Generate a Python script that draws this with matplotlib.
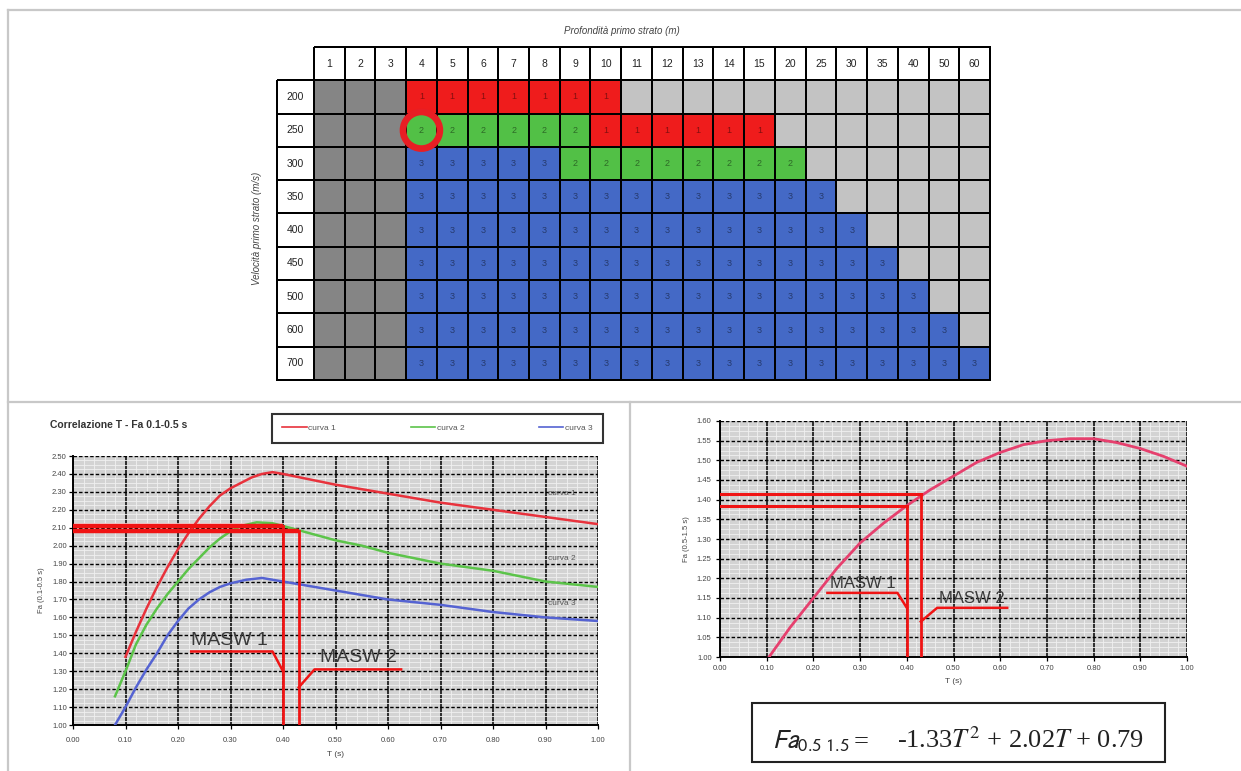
import numpy as np
import matplotlib
matplotlib.use('Agg')
import matplotlib.pyplot as plt
from matplotlib.colors import ListedColormap
from matplotlib.patches import Ellipse, Rectangle
from matplotlib.ticker import MultipleLocator, FormatStrFormatter

plt.rcParams['font.family'] = ['Liberation Sans', 'DejaVu Sans']

# ------------------------------------------------------------------ data
depths = ['1', '2', '3', '4', '5', '6', '7', '8', '9', '10', '11', '12', '13',
          '14', '15', '20', '25', '30', '35', '40', '50', '60']
velocities = ['200', '250', '300', '350', '400', '450', '500', '600', '700']
# 0 = not applicable (dark grey), 9 = outside (light grey), 1/2/3 = curve number
zone_200 = [0, 0, 0, 1, 1, 1, 1, 1, 1, 1, 9, 9, 9, 9, 9, 9, 9, 9, 9, 9, 9, 9]
zone_250 = [0, 0, 0, 2, 2, 2, 2, 2, 2, 1, 1, 1, 1, 1, 1, 9, 9, 9, 9, 9, 9, 9]
zone_300 = [0, 0, 0, 3, 3, 3, 3, 3, 2, 2, 2, 2, 2, 2, 2, 2, 9, 9, 9, 9, 9, 9]
zone_350 = [0, 0, 0, 3, 3, 3, 3, 3, 3, 3, 3, 3, 3, 3, 3, 3, 3, 9, 9, 9, 9, 9]
zone_400 = [0, 0, 0, 3, 3, 3, 3, 3, 3, 3, 3, 3, 3, 3, 3, 3, 3, 3, 9, 9, 9, 9]
zone_450 = [0, 0, 0, 3, 3, 3, 3, 3, 3, 3, 3, 3, 3, 3, 3, 3, 3, 3, 3, 9, 9, 9]
zone_500 = [0, 0, 0, 3, 3, 3, 3, 3, 3, 3, 3, 3, 3, 3, 3, 3, 3, 3, 3, 3, 9, 9]
zone_600 = [0, 0, 0, 3, 3, 3, 3, 3, 3, 3, 3, 3, 3, 3, 3, 3, 3, 3, 3, 3, 3, 9]
zone_700 = [0, 0, 0, 3, 3, 3, 3, 3, 3, 3, 3, 3, 3, 3, 3, 3, 3, 3, 3, 3, 3, 3]
circled_depth = '4'
circled_velocity = '250'

# left chart: Fa(0.1-0.5 s) curves
T_c1 = [0.10, 0.12, 0.14, 0.16, 0.18, 0.20, 0.22, 0.24, 0.26, 0.28, 0.30, 0.32,
        0.34, 0.36, 0.38, 0.40, 0.45, 0.50, 0.55, 0.60, 0.65, 0.70, 0.75, 0.80,
        0.85, 0.90, 0.95, 1.00]
Fa_c1 = [1.38, 1.52, 1.65, 1.77, 1.88, 1.98, 2.07, 2.15, 2.22, 2.28, 2.32, 2.35,
         2.38, 2.40, 2.41, 2.40, 2.37, 2.34, 2.315, 2.29, 2.265, 2.24, 2.22, 2.20,
         2.18, 2.16, 2.14, 2.12]
T_c2 = [0.08, 0.10, 0.12, 0.14, 0.16, 0.18, 0.20, 0.22, 0.24, 0.26, 0.28, 0.30,
        0.32, 0.35, 0.38, 0.40, 0.45, 0.50, 0.55, 0.60, 0.65, 0.70, 0.75, 0.80,
        0.85, 0.90, 0.95, 1.00]
Fa_c2 = [1.16, 1.30, 1.45, 1.56, 1.65, 1.73, 1.80, 1.87, 1.93, 1.99, 2.04, 2.08,
         2.11, 2.13, 2.125, 2.11, 2.07, 2.03, 2.00, 1.96, 1.93, 1.90, 1.88, 1.86,
         1.83, 1.80, 1.785, 1.77]
T_c3 = [0.08, 0.10, 0.12, 0.14, 0.16, 0.18, 0.20, 0.22, 0.24, 0.26, 0.28, 0.30,
        0.33, 0.36, 0.40, 0.45, 0.50, 0.55, 0.60, 0.65, 0.70, 0.75, 0.80, 0.85,
        0.90, 0.95, 1.00]
Fa_c3 = [1.00, 1.10, 1.21, 1.31, 1.40, 1.50, 1.58, 1.65, 1.70, 1.74, 1.77, 1.79,
         1.81, 1.82, 1.80, 1.775, 1.75, 1.725, 1.70, 1.685, 1.67, 1.65, 1.63, 1.615,
         1.60, 1.59, 1.58]
curve_labels = ['curva 1', 'curva 2', 'curva 3']
curve_label_T = [0.905, 0.905, 0.905]
curve_label_Fa = [2.29, 1.93, 1.68]

# MASW readings on left chart
left_masw_T = [0.40, 0.43]
left_masw_Fa = [2.11, 2.08]
left_masw_names = ['MASW 1', 'MASW 2']
left_lead1_T = [0.225, 0.38, 0.40]
left_lead1_Fa = [1.41, 1.41, 1.30]
left_lead2_T = [0.43, 0.46, 0.625]
left_lead2_Fa = [1.21, 1.31, 1.31]
left_text_T = [0.225, 0.47]
left_text_Fa = [1.425, 1.33]

# right chart: Fa(0.5-1.5 s)
T_r = [0.105, 0.15, 0.20, 0.25, 0.30, 0.35, 0.40, 0.45, 0.50, 0.55, 0.60, 0.65,
       0.70, 0.75, 0.80, 0.85, 0.90, 0.95, 1.00]
Fa_r = [1.00, 1.075, 1.15, 1.225, 1.29, 1.34, 1.385, 1.425, 1.46, 1.495, 1.52,
        1.54, 1.55, 1.555, 1.555, 1.545, 1.53, 1.51, 1.485]
right_masw_T = [0.40, 0.43]
right_masw_Fa = [1.385, 1.415]
right_lead1_T = [0.23, 0.38, 0.40]
right_lead1_Fa = [1.163, 1.163, 1.125]
right_lead2_T = [0.43, 0.465, 0.615]
right_lead2_Fa = [1.09, 1.125, 1.125]
right_text_T = [0.235, 0.47]
right_text_Fa = [1.168, 1.13]

# ------------------------------------------------------------------ layout
W, H = 1241, 771
fig = plt.figure(figsize=(W / 100, H / 100), dpi=100)


def frect(x0, y0, x1, y1):
    return [x0 / W, 1 - y1 / H, (x1 - x0) / W, (y1 - y0) / H]


# background / panel frames in pixel coordinates
bg = fig.add_axes([0, 0, 1, 1])
bg.set_xlim(0, W)
bg.set_ylim(H, 0)
bg.axis('off')
frame_kw = dict(color='#c8c8c8', lw=1.6)
bg.plot([8, W], [10, 10], **frame_kw)
bg.plot([8, 8], [10, H], **frame_kw)
bg.plot([8, W], [402, 402], **frame_kw)
bg.plot([630, 630], [402, H], **frame_kw)

# ------------------------------------------------------------------ table
c_dark, c_red, c_green, c_blue, c_light = '#858585', '#ef1c1c', '#52c046', '#4469c6', '#c3c3c3'
zones = np.array([zone_200, zone_250, zone_300, zone_350, zone_400, zone_450,
                  zone_500, zone_600, zone_700])
nrow, ncol = zones.shape
code_order = [0, 1, 2, 3, 9]
idx = np.vectorize(code_order.index)(zones)

axT = fig.add_axes(frect(277, 47, 990, 380))
axT.set_xlim(-1.2, ncol)
axT.set_ylim(nrow, -1)
axT.axis('off')
m = axT.pcolormesh(np.arange(ncol + 1), np.arange(nrow + 1), idx,
                   cmap=ListedColormap([c_dark, c_red, c_green, c_blue, c_light]),
                   vmin=-0.5, vmax=4.5, edgecolors='black', linewidth=1.3)
m.set_clip_on(False)
white = ListedColormap(['white'])
m = axT.pcolormesh(np.arange(ncol + 1), [-1, 0], np.zeros((1, ncol)), cmap=white,
                   edgecolors='black', linewidth=1.3)
m.set_clip_on(False)
m = axT.pcolormesh([-1.2, 0], np.arange(nrow + 1), np.zeros((nrow, 1)), cmap=white,
                   edgecolors='black', linewidth=1.3)
m.set_clip_on(False)
for j, d in enumerate(depths):
    axT.text(j + 0.5, -0.5, d, ha='center', va='center', fontsize=7.5, color='#222222')
for i, v in enumerate(velocities):
    axT.text(-0.6, i + 0.5, v, ha='center', va='center', fontsize=7.5, color='#222222')
for i in range(nrow):
    for j in range(ncol):
        if zones[i, j] in (1, 2, 3):
            axT.text(j + 0.5, i + 0.5, str(zones[i, j]), ha='center', va='center',
                     fontsize=6.5, color='black', alpha=0.45)
cj = depths.index(circled_depth)
ci = velocities.index(circled_velocity)
axT.add_patch(Ellipse((cj + 0.5, ci + 0.5), 1.2, 1.1, fill=False, ec='#e81e24',
                      lw=4.8, zorder=5, clip_on=False))
bg.text(622, 31, 'Profondità primo strato (m)', ha='center', va='center',
        fontsize=7, style='italic', color='#444444')
bg.text(257, 228, 'Velocità primo strato (m/s)', ha='center', va='center',
        fontsize=7, style='italic', color='#444444', rotation=90)


# ------------------------------------------------------------------ chart style
def style_chart(ax, ymin, ymax, ymajor, yminor, xpad, ypad):
    ax.set_xlim(0, 1)
    ax.set_ylim(ymin, ymax)
    ax.set_facecolor('#d3d3d3')
    ax.set_axisbelow(True)
    ax.xaxis.set_major_locator(MultipleLocator(0.1))
    ax.xaxis.set_minor_locator(MultipleLocator(0.02))
    ax.yaxis.set_major_locator(MultipleLocator(ymajor))
    ax.yaxis.set_minor_locator(MultipleLocator(yminor))
    ax.xaxis.set_major_formatter(FormatStrFormatter('%.2f'))
    ax.yaxis.set_major_formatter(FormatStrFormatter('%.2f'))
    ax.grid(True, which='minor', color='#f0f0f0', lw=0.6)
    ax.grid(True, which='major', axis='x', color='black', lw=1.1)
    ax.grid(True, which='major', axis='y', color='black', lw=1.0, ls=(0, (2.5, 1.5)))
    ax.tick_params(which='major', direction='out', length=3, width=0.9,
                   labelsize=5.5, labelcolor='#444444')
    ax.tick_params(axis='x', which='major', pad=xpad)
    ax.tick_params(axis='y', which='major', pad=ypad)
    ax.tick_params(which='minor', length=0)
    for s in ('top', 'right'):
        ax.spines[s].set_visible(False)
    for s in ('left', 'bottom'):
        ax.spines[s].set_linewidth(1.4)
        ax.spines[s].set_color('black')


masw_red = '#f01414'
text_kw = dict(fontsize=14, color='#3a3a3a', va='bottom', ha='left')

# ------------------------------------------------------------------ left chart
axL = fig.add_axes(frect(73, 456, 598, 725))
style_chart(axL, 1.0, 2.5, 0.1, 0.025, 6, 1.5)
l1, = axL.plot(T_c1, Fa_c1, color='#e8323c', lw=1.8, zorder=3)
l2, = axL.plot(T_c2, Fa_c2, color='#5cc44a', lw=1.8, zorder=3)
l3, = axL.plot(T_c3, Fa_c3, color='#5563d2', lw=1.8, zorder=3)
for lab, t, f in zip(curve_labels, curve_label_T, curve_label_Fa):
    axL.text(t, f, lab, fontsize=6, color='#555555', va='center', ha='left', zorder=4)
for t, f in zip(left_masw_T, left_masw_Fa):
    axL.plot([0, t], [f, f], color=masw_red, lw=3.2, zorder=4, solid_capstyle='butt')
    axL.plot([t, t], [f, 1.0], color=masw_red, lw=2.0, zorder=4)
axL.plot(left_lead1_T, left_lead1_Fa, color=masw_red, lw=1.8, zorder=4)
axL.plot(left_lead2_T, left_lead2_Fa, color=masw_red, lw=1.8, zorder=4)
for name, t, f in zip(left_masw_names, left_text_T, left_text_Fa):
    axL.text(t, f, name, zorder=5, **text_kw)
axL.set_xlabel('T (s)', fontsize=6, color='#444444', labelpad=5)
axL.set_ylabel('Fa (0.1-0.5 s)', fontsize=5.5, color='#444444', labelpad=5)
bg.text(50, 425, 'Correlazione T - Fa 0.1-0.5 s', fontsize=7.5, fontweight='bold',
        color='#333333', va='center', ha='left')
leg = fig.legend([l1, l2, l3], curve_labels, ncol=3, mode='expand',
                 bbox_to_anchor=(272 / W, 1 - 444 / H, 331 / W, 31 / H), loc='center',
                 frameon=True, fancybox=False, fontsize=6, handlelength=2.9,
                 handletextpad=0.2, borderpad=1.25, borderaxespad=0,
                 labelcolor='#555555')
leg.get_frame().set_edgecolor('black')
leg.get_frame().set_linewidth(1.5)
for h in leg.legend_handles:
    h.set_linewidth(1.2)

# ------------------------------------------------------------------ right chart
axR = fig.add_axes(frect(720, 421, 1187, 657))
style_chart(axR, 1.0, 1.6, 0.05, 0.0125, 3, 3)
axR.plot(T_r, Fa_r, color='#e6406e', lw=2.0, zorder=3)
for t, f in zip(right_masw_T, right_masw_Fa):
    axR.plot([0, t], [f, f], color=masw_red, lw=2.2, zorder=4)
    axR.plot([t, t], [f, 1.0], color=masw_red, lw=2.0, zorder=4)
axR.plot(right_lead1_T, right_lead1_Fa, color=masw_red, lw=1.8, zorder=4)
axR.plot(right_lead2_T, right_lead2_Fa, color=masw_red, lw=1.8, zorder=4)
rtext_kw = dict(text_kw)
rtext_kw['fontsize'] = 12
for name, t, f in zip(left_masw_names, right_text_T, right_text_Fa):
    axR.text(t, f, name, zorder=5, **rtext_kw)
axR.set_xlabel('T (s)', fontsize=6, color='#444444', labelpad=4)
axR.set_ylabel('Fa (0.5-1.5 s)', fontsize=5.5, color='#444444', labelpad=5)

# ------------------------------------------------------------------ equation box
bg.add_patch(Rectangle((752, 703), 413, 59, fill=False, ec='#222222', lw=1.5))
bg.text(772, 748, r'$Fa_{0.5\ 1.5}$', fontsize=19, math_fontfamily='stixsans',
        color='#222222', va='baseline', ha='left')
bg.text(854, 748, '=', fontsize=19, family='Liberation Serif', color='#222222',
        va='baseline', ha='left')
bg.text(897, 748, '-1.33$T^{2}$ + 2.02$T$ + 0.79', fontsize=19,
        family='Liberation Serif', math_fontfamily='stix', color='#222222',
        va='baseline', ha='left')

fig.savefig('out.png', dpi=100)
